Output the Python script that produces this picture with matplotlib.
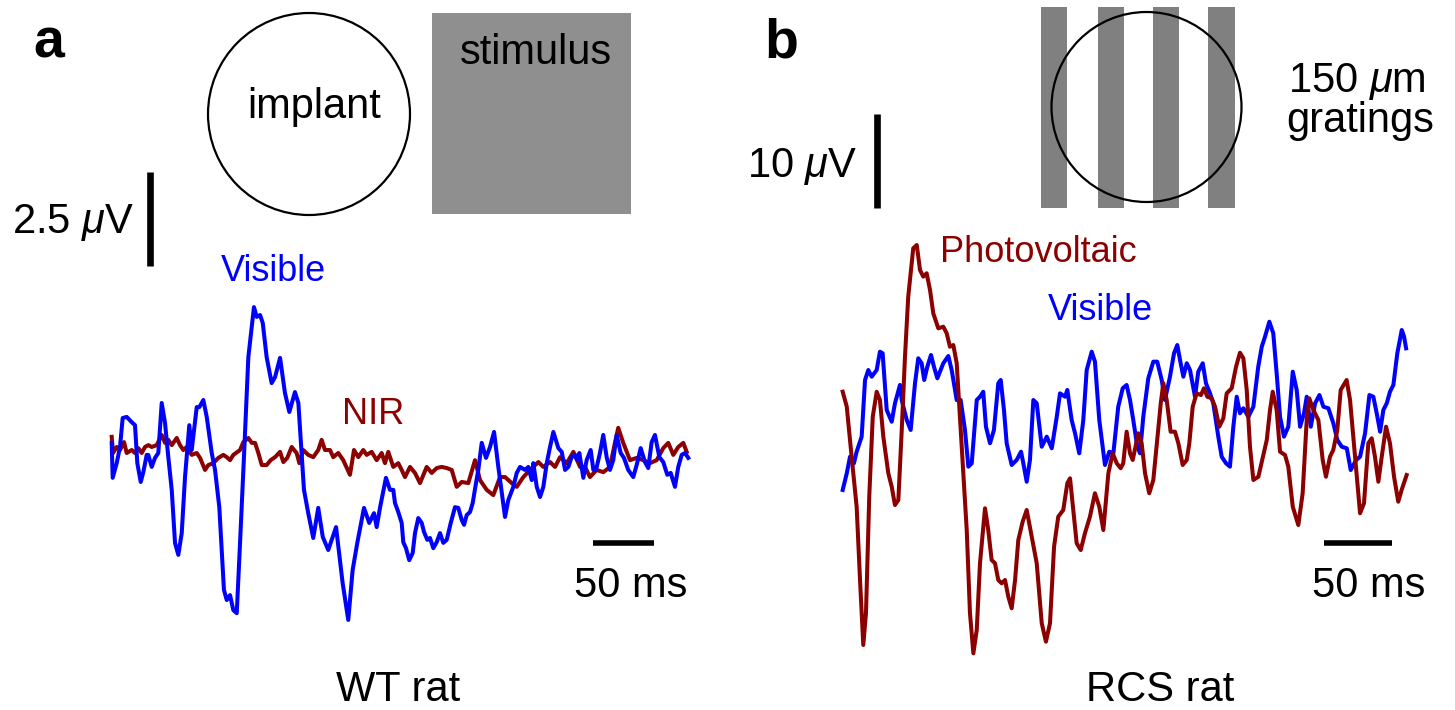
import matplotlib
matplotlib.use("Agg")
import matplotlib.pyplot as plt
from matplotlib.patches import Circle, Rectangle

plt.rcParams['font.family'] = ['Liberation Sans', 'DejaVu Sans']
plt.rcParams['mathtext.fontset'] = 'custom'
plt.rcParams['mathtext.rm'] = 'Liberation Sans'
plt.rcParams['mathtext.it'] = 'Liberation Sans:italic'

# ---- data (time in ms, potential in uV) ----
# panel a, WT rat
t_a_vis = [0, 0.8, 4.1, 6.8, 9.0, 12.3, 16.4, 19.1, 21.0, 23.8, 25.9, 28.7, 30.0, 32.8, 35.5, 38.2,
           41.0, 43.7, 46.4, 49.2, 51.9, 54.6, 57.4, 60.1, 63.6, 65.6, 69.7, 71.8, 75.1, 77.9, 82.0,
           84.7, 88.2, 92.0, 94.3, 97.0, 99.7, 102.5, 105.2, 108.4, 112.0, 116.6, 118.9, 121.6, 123.8,
           127.0, 131.1, 133.9, 138.0, 142.0, 145.6, 150.2, 153.0, 157.6, 161.1, 165.2, 169.3, 173.0,
           177.5, 183.9, 189.3, 193.9, 197.5, 201.3, 206.8, 211.1, 215.0, 217.2, 219.9, 224.8, 228.1,
           230.8, 232.2, 234.9, 237.7, 239.0, 241.2, 243.9, 246.7, 248.6, 251.3, 254.1, 256.0, 258.7,
           260.9, 263.6, 266.4, 269.1, 271.8, 274.6, 277.9, 281.4, 284.1, 286.9, 288.8, 291.0, 293.7,
           295.9, 298.6, 300.5, 303.3, 306.8, 310.1, 313.4, 316.9, 322.4, 325.1, 329.2, 332.0, 334.7,
           338.8, 341.5, 344.3, 345.6, 348.4, 351.1, 353.8, 356.6, 359.3, 362.0, 366.1, 368.9, 371.6,
           374.3, 377.0, 379.8, 381.6, 383.3, 386.6, 389.3, 392.6, 394.8, 397.0, 400.2, 402.9, 405.7,
           408.4, 411.1, 413.9, 417.2, 419.9, 423.4, 427.5, 430.3, 433.6, 437.1, 439.8, 442.6, 445.3,
           448.9, 452.1, 455.4, 458.2, 461.7, 464.4, 467.2, 469.9, 472.6]
v_a_vis = [0.19, -0.74, -0.35, 0.08, 0.85, 0.88, 0.74, 0.66, -0.35, -0.85, -0.59, -0.13, -0.13, -0.45,
           -0.21, -0.08, 1.25, 0.72, -0.19, -1.06, -2.47, -2.79, -2.21, -0.72, 0.66, 0.0, 1.14, 1.14,
           1.33, 0.88, -0.08, -0.53, -1.52, -3.72, -3.99, -3.86, -4.26, -4.34, -2.47, -0.19, 2.47, 3.80,
           3.54, 3.59, 3.38, 2.47, 1.78, 1.94, 2.45, 1.52, 1.01, 1.54, 1.25, -1.06, -1.68, -2.34, -1.54,
           -2.31, -2.66, -2.05, -3.54, -4.52, -3.19, -2.47, -1.54, -1.94, -1.68, -2.05, -1.54, -0.74,
           -1.06, -1.06, -1.41, -1.65, -1.94, -2.45, -2.61, -2.93, -2.74, -2.21, -1.81, -1.94, -2.18,
           -2.39, -2.34, -2.61, -2.45, -2.21, -2.47, -2.39, -1.94, -1.52, -1.54, -1.86, -1.99, -1.73,
           -1.65, -1.41, -0.88, -0.53, 0.19, -0.21, 0.08, 0.48, -0.45, -1.78, -1.33, -0.98, -0.61,
           -0.45, -0.53, -0.45, -0.80, -0.35, -0.98, -1.25, -0.98, -0.35, 0.08, 0.48, 0.05, -0.05,
           -0.53, -0.45, -0.19, -0.13, -0.27, -0.08, -0.74, -0.27, 0.0, -0.53, -0.53, -0.08, 0.40,
           -0.19, -0.53, -0.27, 0.40, -0.08, -0.21, -0.53, -0.72, -0.40, 0.05, -0.32, -0.48, 0.21,
           0.40, -0.19, -0.32, -0.66, -0.61, -0.98, -0.45, -0.13, -0.08, -0.21]

t_a_nir = [0, 1.1, 4.1, 6.8, 10.1, 12.3, 16.4, 19.1, 21.8, 24.6, 27.3, 30.0, 32.8, 36.9, 41.0, 43.7,
           46.4, 49.2, 53.3, 56.0, 58.7, 61.5, 65.6, 69.7, 72.4, 76.5, 79.2, 83.3, 87.4, 91.5, 94.3,
           97.0, 99.7, 105.2, 107.9, 112.0, 114.8, 117.5, 120.2, 123.0, 127.0, 130.3, 133.9, 138.0,
           140.7, 143.9, 147.5, 151.6, 153.8, 157.0, 161.1, 165.2, 169.3, 172.1, 174.8, 178.9, 181.6,
           185.7, 189.8, 195.3, 198.6, 202.1, 206.2, 209.0, 213.1, 217.2, 221.3, 224.0, 226.7, 230.8,
           234.9, 237.7, 240.4, 244.5, 248.6, 252.7, 258.2, 262.3, 266.4, 270.5, 274.6, 278.7, 282.8,
           286.9, 292.3, 297.8, 301.9, 307.4, 312.8, 318.3, 322.4, 327.9, 332.0, 337.4, 342.9, 349.7,
           353.8, 359.3, 363.4, 367.5, 373.0, 378.4, 383.9, 388.0, 392.0, 397.5, 403.0, 408.4, 412.5,
           415.2, 419.3, 424.8, 430.3, 435.7, 441.2, 446.7, 452.1, 456.2, 460.3, 464.4, 468.5, 471.3]
v_a_nir = [0.35, -0.08, 0.08, 0.0, 0.21, -0.08, 0.0, -0.08, 0.05, -0.08, 0.08, 0.13, 0.08, 0.13, 0.40,
           0.19, 0.27, 0.13, 0.32, 0.13, 0.0, 0.08, -0.13, -0.08, -0.21, -0.53, -0.40, -0.35, -0.21,
           -0.13, -0.19, -0.27, -0.13, 0.0, 0.21, 0.32, 0.19, 0.19, -0.08, -0.40, -0.40, -0.27, -0.19,
           -0.05, -0.32, -0.21, 0.08, -0.08, -0.35, 0.0, -0.13, -0.19, 0.0, 0.27, 0.0, 0.0, -0.19, -0.08,
           -0.27, -0.66, 0.0, -0.19, 0.0, -0.13, -0.05, -0.27, -0.08, -0.35, -0.05, -0.45, -0.35, -0.53,
           -0.72, -0.45, -0.61, -0.88, -0.45, -0.61, -0.48, -0.45, -0.48, -0.53, -0.98, -0.85, -0.88,
           -0.27, -0.80, -1.06, -1.20, -0.72, -0.72, -0.88, -0.98, -0.72, -0.53, -0.32, -0.45, -0.32,
           -0.45, -0.19, -0.35, -0.05, -0.45, -0.45, -0.72, -0.53, -0.59, -0.45, 0.19, 0.59, 0.19, -0.27,
           -0.21, -0.27, -0.35, -0.27, 0.05, 0.19, -0.13, 0.08, 0.19, -0.05]

# panel b, RCS rat
t_b_pv = [0, 3.0, 6.6, 10.3, 12.8, 15.2, 17.2, 19.6, 22.2, 25.1, 27.5, 30.0, 33.7, 36.2, 38.6, 41.1,
          43.6, 46.0, 48.4, 52.1, 54.7, 57.1, 59.5, 62.0, 64.5, 66.9, 70.6, 74.3, 76.8, 79.2, 81.7,
          84.2, 87.9, 91.6, 94.0, 96.5, 99.0, 101.4, 105.1, 107.5, 110.0, 112.5, 114.9, 117.4, 119.9,
          122.3, 124.8, 127.3, 129.7, 132.9, 135.9, 139.6, 143.3, 147.0, 150.1, 153.1, 156.1, 159.2,
          162.9, 165.9, 167.9, 170.3, 172.8, 175.8, 178.9, 182.6, 186.3, 189.5, 192.5, 196.2, 199.4,
          202.4, 205.3, 207.2, 209.7, 212.2, 214.2, 218.3, 220.8, 223.3, 226.4, 229.4, 232.3, 234.9,
          236.8, 239.3, 242.2, 245.4, 247.9, 251.1, 254.1, 256.0, 258.5, 261.4, 264.6, 266.8, 269.3,
          272.5, 275.0, 278.1, 281.1, 283.6, 287.3, 290.5, 293.4, 295.9, 298.4, 300.8, 303.3, 307.0,
          310.7, 313.2, 315.6, 317.6, 320.5, 323.0, 326.7, 329.1, 332.4, 336.5, 339.7, 342.7, 344.6,
          347.6, 351.3, 354.5, 356.9, 359.9, 362.3, 365.3, 367.8, 372.2, 374.7, 378.4, 382.1, 385.0,
          388.2, 390.7, 393.1, 395.6, 398.1, 401.3, 404.2, 407.2, 410.3, 412.8, 416.5]
v_b_pv = [4.07, 2.48, -2.84, -8.16, -15.96, -22.87, -19.47, -7.10, 1.41, 4.07, 3.19, -0.71, -4.61,
          -6.03, -7.98, -7.45, 0.0, 7.80, 14.18, 19.33, 19.68, 17.02, 16.31, 16.67, 14.89, 12.41,
          10.82, 10.99, 10.29, 8.86, 9.04, 7.10, -1.78, -10.64, -19.50, -23.76, -21.28, -14.18, -8.33,
          -10.64, -13.83, -14.18, -15.96, -16.31, -15.96, -17.73, -18.97, -15.96, -11.70, -9.76, -8.51,
          -11.35, -14.18, -20.56, -22.52, -20.56, -12.41, -9.22, -8.51, -5.67, -5.14, -8.51, -12.05,
          -12.77, -10.99, -9.22, -6.73, -8.16, -10.64, -4.61, -2.48, -3.54, -4.07, -3.54, -0.18, -2.48,
          -3.19, -0.35, -1.41, -4.61, -6.73, -5.32, -1.06, 2.84, 4.97, 3.19, -0.18, -0.18, -1.41,
          -3.72, -3.19, -1.41, 2.48, 3.90, 3.72, 4.44, 3.54, 3.37, 2.48, 0.35, 1.24, 3.90, 4.44, 6.73,
          8.22, 7.63, 4.26, -1.78, -5.32, -4.97, -2.66, -1.06, 2.13, 4.07, 2.13, -2.31, -2.66, -3.90,
          -8.16, -10.11, -6.73, 1.06, 3.37, 2.13, 1.06, -3.19, -4.97, -2.84, -2.13, 0.0, 4.26, 5.32,
          3.19, -2.84, -8.86, -7.80, -1.41, -0.88, -2.84, -5.50, -2.84, 0.35, -1.41, -4.97, -7.63,
          -6.38, -4.79]

t_b_vis = [0, 3.0, 5.4, 8.3, 10.3, 14.0, 16.5, 18.9, 21.4, 25.1, 27.5, 29.5, 32.5, 36.2, 38.6, 42.3,
           43.6, 47.3, 50.2, 53.4, 55.8, 58.3, 60.2, 62.5, 65.2, 67.4, 69.9, 74.3, 78.0, 80.5, 84.2,
           87.1, 90.3, 92.8, 95.3, 99.0, 101.4, 103.8, 105.8, 108.8, 111.7, 114.9, 116.7, 119.1, 121.1,
           124.8, 128.5, 131.7, 133.4, 135.9, 138.3, 140.8, 143.3, 147.0, 150.7, 154.4, 158.1, 160.5,
           164.2, 165.9, 169.1, 171.6, 174.7, 177.7, 180.2, 183.9, 186.3, 189.5, 193.7, 196.9, 199.9,
           203.5, 206.8, 209.7, 212.2, 214.6, 217.6, 219.6, 222.0, 225.7, 229.4, 232.3, 235.6, 238.0,
           241.7, 244.7, 247.1, 249.6, 251.6, 254.1, 256.5, 260.2, 262.6, 265.9, 268.3, 271.3, 273.7,
           277.4, 279.9, 283.1, 286.0, 288.5, 291.0, 293.4, 295.9, 299.6, 303.3, 306.9, 309.5, 311.9,
           315.1, 318.0, 320.5, 323.0, 325.9, 329.1, 332.4, 335.3, 337.8, 340.7, 342.7, 345.7, 348.9,
           352.1, 355.0, 358.7, 362.4, 365.3, 368.6, 372.3, 375.2, 379.2, 382.1, 385.8, 389.0, 391.9,
           394.4, 396.9, 399.3, 401.8, 404.2, 406.7, 409.6, 412.9, 414.6, 416.1]
v_b_vis = [-6.38, -4.61, -2.84, -3.54, -2.31, -0.71, 5.32, 6.38, 5.67, 6.38, 8.33, 8.16, 2.13, 0.88,
           2.84, 4.79, 3.19, 1.06, 0.0, 4.97, 7.63, 7.10, 5.32, 6.73, 7.98, 6.73, 5.50, 7.10, 7.87,
           6.38, 3.19, 3.19, 0.0, -3.90, -3.54, 3.19, 3.54, 4.07, 0.35, -1.41, 0.0, 4.97, 5.32, 2.13,
           -1.41, -3.72, -3.19, -2.31, -3.54, -5.50, -3.19, 3.19, 2.84, -1.78, -0.71, -1.95, 1.41, 3.90,
           3.54, 4.26, 1.06, -0.35, -2.48, 1.06, 6.38, 8.33, 7.27, 1.06, -3.72, -2.31, -2.48, 2.48,
           4.44, 4.79, 3.19, 1.06, -1.78, -2.48, 1.41, 5.50, 7.27, 7.27, 5.32, 3.19, 5.67, 8.16, 9.04,
           7.10, 5.67, 7.10, 6.38, 3.54, 6.20, 7.10, 4.97, 3.90, 2.84, -0.71, -2.84, -3.54, -3.90, 0.35,
           3.54, 1.78, 2.31, 1.41, 2.48, 6.73, 8.86, 9.93, 11.52, 10.29, 6.03, 1.41, -0.71, 0.35, 6.20,
           4.26, 0.35, 1.78, 3.54, 0.35, 2.84, 3.72, 2.48, 2.31, 0.71, -1.06, -1.78, -1.95, -4.26,
           -3.19, -2.84, -0.35, 3.72, 3.54, 1.78, -0.18, 2.13, 2.84, 4.07, 4.79, 8.16, 10.64, 9.93, 8.69]

BLUE = '#0000ff'
RED = '#8b0000'
GRAY_A = '#8f8f8f'
GRAY_B = '#808080'

W, H = 1455, 710
fig = plt.figure(figsize=(W / 100, H / 100), dpi=100)

# overlay axes in pixel units for sketches and labels
deco = fig.add_axes([0, 0, 1, 1])
deco.set_xlim(0, W)
deco.set_ylim(H, 0)
deco.axis('off')


def trace_axes(left, right, x0, y0, px_ms, px_uv):
    """axes covering pixel columns left..right, with time 0 at x0 and 0 uV at y0"""
    ax = fig.add_axes([left / W, 0, (right - left) / W, 1])
    ax.set_xlim((left - x0) / px_ms, (right - x0) / px_ms)
    ax.set_ylim((y0 - H) / px_uv, y0 / px_uv)
    ax.axis('off')
    return ax


ax_a = trace_axes(0, 727, 111.7, 450, 1.22, 37.6)
ax_b = trace_axes(727, W, 842.7, 430, 1.354, 9.4)

lw = 2.9
ax_a.plot(t_a_nir, v_a_nir, color=RED, lw=lw, zorder=2)
ax_a.plot(t_a_vis, v_a_vis, color=BLUE, lw=lw, zorder=3)
ax_b.plot(t_b_vis, v_b_vis, color=BLUE, lw=lw, zorder=2)
ax_b.plot(t_b_pv, v_b_pv, color=RED, lw=lw, zorder=3)

# scale bars
ax_a.plot([31, 31], [4.89, 7.39], color='k', lw=4.8, solid_capstyle='butt')
ax_a.plot([394.8, 444.8], [-2.47, -2.47], color='k', lw=4, solid_capstyle='butt')
ax_b.plot([25, 25], [23.6, 33.6], color='k', lw=4.8, solid_capstyle='butt')
ax_b.plot([355.5, 405.5], [-12.0, -12.0], color='k', lw=4, solid_capstyle='butt')

# stimulus sketches
deco.add_patch(Rectangle((432, 13), 199, 201, color=GRAY_A, lw=0))
deco.add_patch(Circle((309, 114), 101, fill=False, ec='k', lw=1.6))
for xb in [1040.5, 1097.8, 1152.8, 1207.9]:
    deco.add_patch(Rectangle((xb, 7), 26.6, 201, color=GRAY_B, lw=0))
deco.add_patch(Circle((1146.5, 107), 95, fill=False, ec='k', lw=1.6))

fs = 30
fs_lab = 26
deco.text(49, 58, 'a', fontsize=40, fontweight='bold', ha='center', va='baseline')
deco.text(781, 58, 'b', fontsize=40, fontweight='bold', ha='center', va='baseline')
deco.text(314, 118, 'implant', fontsize=fs, ha='center', va='baseline')
deco.text(536, 64, 'stimulus', fontsize=fs, ha='center', va='baseline')
deco.text(134, 233, r'2.5 $\mu$V', fontsize=fs, ha='right', va='baseline')
deco.text(857, 177, r'10 $\mu$V', fontsize=fs, ha='right', va='baseline')
deco.text(1288, 92, r'150 $\mu$m', fontsize=fs, ha='left', va='baseline')
deco.text(1286, 132, 'gratings', fontsize=fs, ha='left', va='baseline')
deco.text(273, 281, 'Visible', fontsize=fs_lab, color=BLUE, ha='center', va='baseline')
deco.text(373, 424, 'NIR', fontsize=fs_lab, color=RED, ha='center', va='baseline')
deco.text(1038, 262, 'Photovoltaic', fontsize=fs_lab, color=RED, ha='center', va='baseline')
deco.text(1100, 320, 'Visible', fontsize=fs_lab, color=BLUE, ha='center', va='baseline')
deco.text(631, 597, '50 ms', fontsize=fs, ha='center', va='baseline')
deco.text(1369, 597, '50 ms', fontsize=fs, ha='center', va='baseline')
deco.text(398, 701, 'WT rat', fontsize=fs, ha='center', va='baseline')
deco.text(1160, 701, 'RCS rat', fontsize=fs, ha='center', va='baseline')

fig.savefig('out.png', dpi=100)
